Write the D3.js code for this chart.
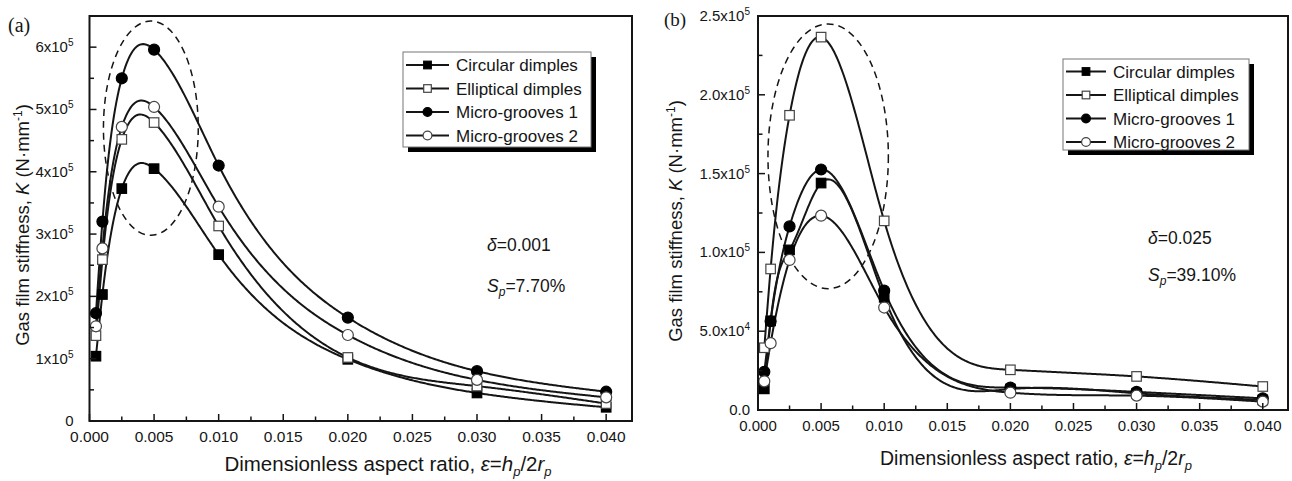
<!DOCTYPE html>
<html><head><meta charset="utf-8">
<script src="https://cdn.jsdelivr.net/npm/d3@7"></script>
<style>
body{margin:0;background:#fff;}
svg{display:block;font-family:"Liberation Sans",Arial,sans-serif;}
</style></head>
<body><svg id="c" width="1292" height="481"></svg>
<script>
// ---------- DATA ----------
const xValues = [0.0005, 0.001, 0.0025, 0.005, 0.01, 0.02, 0.03, 0.04];
const seriesNames = ["Circular dimples", "Elliptical dimples", "Micro-grooves 1", "Micro-grooves 2"];
const seriesMarkers = ["square-filled", "square-open", "circle-filled", "circle-open"];
// Panel (a): delta = 0.001, Sp = 7.70%  (N/mm)
const aCircular   = [1.04e5, 2.03e5, 3.73e5, 4.05e5, 2.67e5, 0.99e5, 0.45e5, 0.22e5];
const aElliptical = [1.37e5, 2.59e5, 4.52e5, 4.79e5, 3.13e5, 1.02e5, 0.56e5, 0.28e5];
const aGrooves1   = [1.73e5, 3.20e5, 5.50e5, 5.96e5, 4.10e5, 1.66e5, 0.80e5, 0.47e5];
const aGrooves2   = [1.52e5, 2.77e5, 4.72e5, 5.04e5, 3.44e5, 1.38e5, 0.66e5, 0.38e5];
// Panel (b): delta = 0.025, Sp = 39.10%
const bCircular   = [1.34e4, 5.65e4, 10.16e4, 14.4e4, 7.15e4, 1.33e4, 1.06e4, 0.64e4];
const bElliptical = [3.95e4, 8.95e4, 18.7e4, 23.66e4, 12.0e4, 2.55e4, 2.13e4, 1.49e4];
const bGrooves1   = [2.42e4, 5.63e4, 11.65e4, 15.26e4, 7.58e4, 1.42e4, 1.15e4, 0.74e4];
const bGrooves2   = [1.82e4, 4.24e4, 9.52e4, 12.33e4, 6.5e4, 1.1e4, 0.91e4, 0.53e4];
const xTicks = [0, 0.005, 0.010, 0.015, 0.020, 0.025, 0.030, 0.035, 0.040];
const xTickLabels = ["0.000","0.005","0.010","0.015","0.020","0.025","0.030","0.035","0.040"];
const aYTicks = [0, 1e5, 2e5, 3e5, 4e5, 5e5, 6e5];
const aYTickLabels = [["0",""],["1x10","5"],["2x10","5"],["3x10","5"],["4x10","5"],["5x10","5"],["6x10","5"]];
const bYTicks = [0, 5e4, 1e5, 1.5e5, 2e5, 2.5e5];
const bYTickLabels = [["0.0",""],["5.0x10","4"],["1.0x10","5"],["1.5x10","5"],["2.0x10","5"],["2.5x10","5"]];
// dashed ellipses (centre x, centre y, radius x, radius y) in data units
const aEllipse = [0.00475, 4.70e5, 0.00367, 1.72e5];
const bEllipse = [0.00556, 1.61e5, 0.00477, 0.84e5];
const aNotes = ["0.001", "7.70%"];
const bNotes = ["0.025", "39.10%"];

// ---------- helpers ----------
function naturalSpline(xs, ys){
  const n = xs.length, h=[], al=[], l=[1], mu=[0], z=[0], c=new Array(n).fill(0), b=[], d=[];
  for(let i=0;i<n-1;i++) h.push(xs[i+1]-xs[i]);
  for(let i=1;i<n-1;i++) al[i]=3/h[i]*(ys[i+1]-ys[i])-3/h[i-1]*(ys[i]-ys[i-1]);
  for(let i=1;i<n-1;i++){ l[i]=2*(xs[i+1]-xs[i-1])-h[i-1]*mu[i-1]; mu[i]=h[i]/l[i]; z[i]=(al[i]-h[i-1]*z[i-1])/l[i]; }
  l[n-1]=1; z[n-1]=0; c[n-1]=0;
  for(let j=n-2;j>=0;j--){ c[j]=z[j]-mu[j]*c[j+1]; b[j]=(ys[j+1]-ys[j])/h[j]-h[j]*(c[j+1]+2*c[j])/3; d[j]=(c[j+1]-c[j])/(3*h[j]); }
  return function(x){
    let i=0; while(i<n-2 && x>xs[i+1]) i++;
    const dx=x-xs[i]; return ys[i]+b[i]*dx+c[i]*dx*dx+d[i]*dx*dx*dx;
  };
}

const svg = d3.select("#c");
const INK = "#151515";

function panel(cfg){
  const g = svg.append("g");
  const x = d3.scaleLinear().domain([0,0.042]).range([cfg.left,cfg.right]);
  const y = d3.scaleLinear().domain([0,cfg.ymax]).range([cfg.bottom,cfg.top]);
  // ellipse
  const e = cfg.ellipse;
  g.append("ellipse").attr("cx",x(e[0])).attr("cy",y(e[1]))
    .attr("rx",x(e[2])-x(0)).attr("ry",y(0)-y(e[3]))
    .attr("fill","none").attr("stroke",INK).attr("stroke-width",1.5).attr("stroke-dasharray","7,5");
  // curves
  const line = d3.line().x(d=>x(d[0])).y(d=>y(d[1]));
  cfg.series.forEach((s)=>{
    const f = naturalSpline(xValues, s);
    const pts = d3.range(0,401).map(i=>{const xv=xValues[0]+(xValues[xValues.length-1]-xValues[0])*i/400; return [xv,f(xv)];});
    g.append("path").attr("d",line(pts)).attr("fill","none").attr("stroke",INK).attr("stroke-width",2);
  });
  cfg.series.forEach((s,si)=>{
    s.forEach((v,i)=>drawMarker(g, seriesMarkers[si], x(xValues[i]), y(v)));
  });
  // ticks (inward)
  const xa = g.append("g");
  d3.range(0,0.0421,0.0025).forEach((t,i)=>{
    const major = i%2===0;
    xa.append("line").attr("x1",x(t)).attr("x2",x(t)).attr("y1",cfg.bottom).attr("y2",cfg.bottom-(major?7:4.5)).attr("stroke",INK).attr("stroke-width",1.5);
  });
  xTicks.forEach((t,i)=>{
    xa.append("text").attr("x",x(t)).attr("y",cfg.bottom+21).attr("text-anchor","middle")
      .attr("font-size",cfg.tickFont).attr("fill",INK).text(xTickLabels[i]);
  });
  const ya = g.append("g");
  const minorStep = cfg.yTicks[1]/2;
  d3.range(0,cfg.ymax+1,minorStep).forEach((t,i)=>{
    const major = i%2===0;
    ya.append("line").attr("x1",cfg.left).attr("x2",cfg.left+(major?7:4.5)).attr("y1",y(t)).attr("y2",y(t)).attr("stroke",INK).attr("stroke-width",1.5);
  });
  cfg.yTicks.forEach((t,i)=>{
    const tx = ya.append("text").attr("x",cfg.left-cfg.labGap).attr("y",y(t)+5).attr("text-anchor","end")
      .attr("font-size",15).attr("fill",INK);
    tx.append("tspan").text(cfg.yTickLabels[i][0]);
    if(cfg.yTickLabels[i][1]) tx.append("tspan").attr("dy",-6).attr("font-size",10).text(cfg.yTickLabels[i][1]);
  });
  // frame
  g.append("rect").attr("x",cfg.left).attr("y",cfg.top).attr("width",cfg.right-cfg.left).attr("height",cfg.bottom-cfg.top)
    .attr("fill","none").attr("stroke",INK).attr("stroke-width",2);
  // axis titles
  const yt = g.append("text").attr("transform",`translate(${cfg.ylabX},${cfg.ylabY}) rotate(-90)`)
    .attr("text-anchor","middle").attr("font-size",18.5).attr("fill",INK);
  yt.append("tspan").text("Gas film stiffness, ");
  yt.append("tspan").attr("font-style","italic").text("K");
  yt.append("tspan").text(" (N·mm");
  yt.append("tspan").attr("dy",-7).attr("font-size",12).text("-1");
  yt.append("tspan").attr("dy",7).text(")");
  const xt = g.append("text").attr("x",cfg.xlabX).attr("y",cfg.xlabY).attr("text-anchor","middle").attr("font-size",cfg.xlabFont).attr("fill",INK);
  xt.append("tspan").text("Dimensionless aspect ratio, ");
  xt.append("tspan").attr("font-style","italic").text("ε");
  xt.append("tspan").text("=");
  xt.append("tspan").attr("font-style","italic").text("h");
  xt.append("tspan").attr("font-style","italic").attr("dy",5).attr("font-size",13).text("p");
  xt.append("tspan").attr("dy",-5).text("/2");
  xt.append("tspan").attr("font-style","italic").text("r");
  xt.append("tspan").attr("font-style","italic").attr("dy",5).attr("font-size",13).text("p");
  // notes
  const n1 = g.append("text").attr("x",cfg.noteX).attr("y",cfg.noteY1).attr("font-size",17.5).attr("fill",INK);
  n1.append("tspan").attr("font-style","italic").text("δ");
  n1.append("tspan").text("="+cfg.notes[0]);
  const n2 = g.append("text").attr("x",cfg.noteX).attr("y",cfg.noteY2).attr("font-size",17.5).attr("fill",INK);
  n2.append("tspan").attr("font-style","italic").text("S");
  n2.append("tspan").attr("font-style","italic").attr("dy",4).attr("font-size",12).text("p");
  n2.append("tspan").attr("dy",-4).text("="+cfg.notes[1]);
  // legend
  const L = cfg.legend;
  g.append("rect").attr("x",L.x+5).attr("y",L.y+5).attr("width",L.w).attr("height",L.h).attr("fill","#000");
  g.append("rect").attr("x",L.x).attr("y",L.y).attr("width",L.w).attr("height",L.h).attr("fill","#fff").attr("stroke","#777").attr("stroke-width",1);
  seriesNames.forEach((nm,i)=>{
    const yy = L.y+L.r0+i*L.dy;
    g.append("line").attr("x1",L.x+3).attr("x2",L.x+L.lineW).attr("y1",yy).attr("y2",yy).attr("stroke",INK).attr("stroke-width",2);
    drawMarker(g, seriesMarkers[i], L.x+3+(L.lineW-3)/2, yy, 0.8);
    g.append("text").attr("x",L.x+L.lineW+7).attr("y",yy+6).attr("font-size",17).attr("fill",INK).text(nm);
  });
  // panel tag
  g.append("text").attr("x",cfg.tagX).attr("y",cfg.tagY).attr("font-family","'Liberation Serif','Times New Roman',serif")
    .attr("font-size",cfg.tagFont).attr("fill",INK).text(cfg.tag);
}

function drawMarker(g, type, cx, cy, k){
  k = k||1;
  const fill = type.endsWith("filled") ? "#000" : "#fff";
  if(type.startsWith("square")){
    const s = 9.5*k;
    g.append("rect").attr("x",cx-s/2).attr("y",cy-s/2).attr("width",s).attr("height",s)
      .attr("fill",fill).attr("stroke",type.endsWith("filled")?"#000":"#444").attr("stroke-width",1.2);
  } else {
    g.append("circle").attr("cx",cx).attr("cy",cy).attr("r",5.5*k)
      .attr("fill",fill).attr("stroke",type.endsWith("filled")?"#000":"#444").attr("stroke-width",1.2);
  }
}

panel({left:89.5,right:632,top:16,bottom:421,ymax:6.5e5,series:[aCircular,aElliptical,aGrooves1,aGrooves2],
  yTicks:aYTicks,yTickLabels:aYTickLabels,labGap:16,ellipse:aEllipse,notes:aNotes,tickFont:15.5,
  ylabX:29,ylabY:225,xlabX:388,xlabY:471,xlabFont:20.5,noteX:487,noteY1:251,noteY2:292,
  legend:{x:403,y:52,w:188,h:95,r0:13,dy:23.5,lineW:46},tag:"(a)",tagX:8,tagY:32,tagFont:20});
panel({left:758,right:1288,top:16,bottom:410,ymax:2.5e5,series:[bCircular,bElliptical,bGrooves1,bGrooves2],
  yTicks:bYTicks,yTickLabels:bYTickLabels,labGap:8,ellipse:bEllipse,notes:bNotes,tickFont:15,
  ylabX:682,ylabY:221,xlabX:1036,xlabY:465,xlabFont:19.5,noteX:1148,noteY1:244,noteY2:281,
  legend:{x:1063,y:59,w:186,h:91,r0:12.5,dy:23.5,lineW:43},tag:"(b)",tagX:664,tagY:26,tagFont:19});
</script></body></html>
